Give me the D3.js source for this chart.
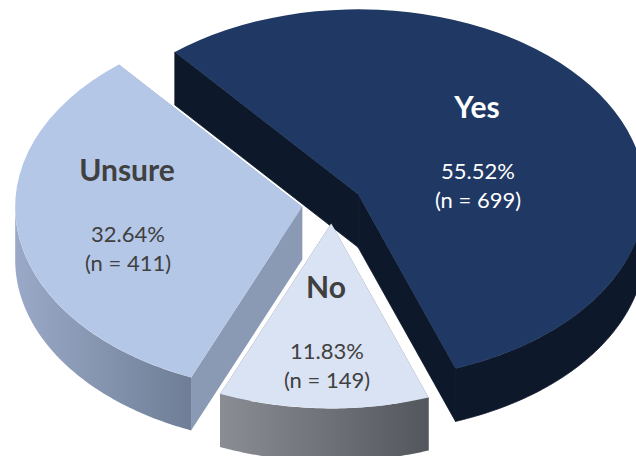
<!DOCTYPE html>
<html>
<head>
<meta charset="utf-8">
<script src="https://cdn.jsdelivr.net/npm/d3@7/dist/d3.min.js"></script>
<style>
  html, body { margin: 0; padding: 0; background: #fff; overflow: hidden; }
  text { font-family: Lato, "Open Sans", sans-serif; text-anchor: middle; }
</style>
</head>
<body>
<div id="viz"></div>
<script>
// values
const categories = ["Yes", "No", "Unsure"];
const counts = [699, 149, 411];
const percents = ["55.52%", "11.83%", "32.64%"];

const width = 636, height = 456;
const cx = 332, cy = 204;      // pie centre before exploding
const rx = 287, ry = 185;      // ellipse of the tilted disc
const depth = 53;              // extrusion height
const explode = 0.105;         // slice pull-out, share of radius
const startAngle = -39.7 * Math.PI / 180;

const style = {
  Yes:    { top: "#1f3864", cut: "#0d182b", wall: ["#0d182b", "#0d182b"], text: "#ffffff", x: 477, y: 118 },
  No:     { top: "#dae3f3", cut: "#6d7179", wall: ["#8a8e94", "#54565d"], text: "#404040", x: 326, y: 298 },
  Unsure: { top: "#b4c7e7", cut: "#8a9ab5", wall: ["#9aa9c7", "#6f7e96"], text: "#404040", x: 127, y: 181 }
};

const svg = d3.select("#viz").append("svg")
  .attr("width", width)
  .attr("height", height)
  .style("display", "block");

const defs = svg.append("defs");

const pie = d3.pie()
  .sort(null)
  .startAngle(startAngle)
  .endAngle(startAngle + 2 * Math.PI);

const slices = pie(counts).map((d, i) => {
  const mid = (d.startAngle + d.endAngle) / 2;
  return {
    ...d,
    name: categories[i],
    pct: percents[i],
    n: counts[i],
    ax: cx + explode * rx * Math.sin(mid),
    ay: cy - explode * ry * Math.cos(mid)
  };
});

// d3 angle convention: 0 at 12 o'clock, clockwise
const onRim = (s, a) => [s.ax + rx * Math.sin(a), s.ay - ry * Math.cos(a)];

const arc = d3.arc().innerRadius(0).outerRadius(rx);
const line = d3.line();

function rimPoints(s, from, to) {
  const steps = 80;
  return d3.range(steps + 1).map(i => onRim(s, from + (to - from) * i / steps));
}

// extruded band under a run of points
function band(points) {
  const lower = points.map(p => [p[0], p[1] + depth]).reverse();
  return line(points.concat(lower)) + "Z";
}

// back to front
const order = ["Yes", "Unsure", "No"];
const drawn = order.map(name => slices.find(s => s.name === name));

drawn.forEach(s => {
  const st = style[s.name];
  const g = svg.append("g");
  // same-colour faces would show seams without a hairline
  const seam = st.wall[0] === st.wall[1] ? st.cut : "none";

  // straight cut faces
  [s.startAngle, s.endAngle].forEach(a => {
    g.append("path")
      .attr("d", band([[s.ax, s.ay], onRim(s, a)]))
      .attr("fill", st.cut)
      .attr("stroke", seam)
      .attr("stroke-width", 0.8);
  });

  // outer wall, only the part facing the viewer (lower half of the ellipse)
  const from = Math.max(s.startAngle, Math.PI / 2);
  const to = Math.min(s.endAngle, 3 * Math.PI / 2);
  if (to > from) {
    const id = "wall-" + s.name;
    const grad = defs.append("linearGradient").attr("id", id);
    grad.append("stop").attr("offset", "0%").attr("stop-color", st.wall[0]);
    grad.append("stop").attr("offset", "100%").attr("stop-color", st.wall[1]);
    g.append("path")
      .attr("d", band(rimPoints(s, from, to)))
      .attr("fill", `url(#${id})`)
      .attr("stroke", seam)
      .attr("stroke-width", 0.8);
  }

  // top face
  g.append("path")
    .attr("d", arc(s))
    .attr("transform", `translate(${s.ax},${s.ay}) scale(1,${ry / rx})`)
    .attr("fill", st.top);
});

// labels
slices.forEach(s => {
  const st = style[s.name];
  const g = svg.append("g").attr("fill", st.text);
  g.append("text")
    .attr("x", st.x).attr("y", st.y)
    .attr("font-size", 30).attr("font-weight", 700)
    .text(s.name);
  g.append("text")
    .attr("x", st.x + 1).attr("y", st.y + 61)
    .attr("font-size", 22)
    .text(s.pct);
  g.append("text")
    .attr("x", st.x + 1).attr("y", st.y + 90)
    .attr("font-size", 22)
    .text(`(n = ${s.n})`);
});
</script>
</body>
</html>
